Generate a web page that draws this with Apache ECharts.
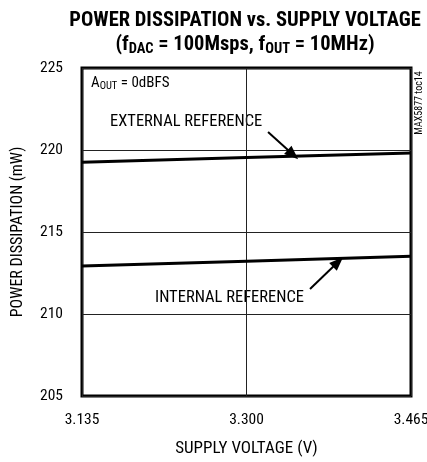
<!DOCTYPE html>
<html><head><meta charset="utf-8">
<script src="https://cdn.jsdelivr.net/npm/echarts@6/dist/echarts.min.js"></script>
<style>html,body{margin:0;padding:0;background:#fff}#c{width:427px;height:462px}</style>
</head><body><div id="c"></div>
<script>
const xTicks = [3.135, 3.300, 3.465];
const yTicks = [205, 210, 215, 220, 225];
const supplyVoltage = [3.135, 3.300, 3.465];
const externalRef = [219.25, 219.55, 219.82];
const internalRef = [212.93, 213.22, 213.52];
const extArrow = [[3.3216, 221.1], [3.3466, 219.72]];
const intArrow = [[3.3637, 211.52], [3.3918, 213.17]];

const FONT = '"Roboto Condensed", "Liberation Sans Narrow", sans-serif';
const chart = echarts.init(document.getElementById('c'));
const arrowLine = (pts) => ({
  symbol: ['none', 'triangle'], symbolSize: [11, 14], silent: true,
  lineStyle: { color: '#000', width: 2, type: 'solid' },
  label: { show: false },
  data: [[{ coord: pts[0] }, { coord: pts[1] }]]
});
chart.setOption({
  animation: false,
  title: {
    text: 'POWER DISSIPATION vs. SUPPLY VOLTAGE\n{b|(f}{s|DAC}{b| = 100Msps, f}{s|OUT}{b| = 10MHz)}',
    left: 240, top: 4, textAlign: 'center',
    textStyle: {
      fontFamily: FONT, fontWeight: 'bold', fontSize: 20.5, color: '#000', lineHeight: 24,
      rich: {
        b: { fontFamily: FONT, fontWeight: 'bold', fontSize: 20.5, color: '#000' },
        s: { fontFamily: FONT, fontWeight: 'bold', fontSize: 14.5, color: '#000', padding: [8, 0, 0, 0] }
      }
    }
  },
  grid: { left: 82, right: 16, top: 68, bottom: 66, show: true, borderColor: '#000', borderWidth: 3,
          containLabel: false, outerBoundsMode: 'none' },
  xAxis: {
    type: 'value', min: 3.135, max: 3.465, interval: 0.165,
    name: 'SUPPLY VOLTAGE (V)', nameLocation: 'middle', nameGap: 44,
    nameTextStyle: { fontFamily: FONT, fontSize: 17, color: '#000' },
    axisLine: { show: false }, axisTick: { show: false },
    axisLabel: { fontFamily: FONT, fontSize: 15.5, color: '#000', margin: 16, formatter: v => v.toFixed(3) },
    splitLine: { show: true, lineStyle: { color: '#222', width: 1 } }
  },
  yAxis: {
    type: 'value', min: 205, max: 225, interval: 5,
    name: 'POWER DISSIPATION (mW)', nameLocation: 'middle', nameGap: 56, nameRotate: 90,
    nameTextStyle: { fontFamily: FONT, fontSize: 16, color: '#000' },
    axisLine: { show: false }, axisTick: { show: false },
    axisLabel: { fontFamily: FONT, fontSize: 15.5, color: '#000', margin: 19, verticalAlign: 'middle' },
    splitLine: { show: true, lineStyle: { color: '#222', width: 1 } }
  },
  series: [
    { type: 'line', data: supplyVoltage.map((v, i) => [v, externalRef[i]]), symbol: 'none',
      lineStyle: { color: '#000', width: 3 }, markLine: arrowLine(extArrow) },
    { type: 'line', data: supplyVoltage.map((v, i) => [v, internalRef[i]]), symbol: 'none',
      lineStyle: { color: '#000', width: 3 }, markLine: arrowLine(intArrow) }
  ],
  graphic: [
    { type: 'text', left: 91, top: 76, style: { text: '{a|A}{s|OUT}{a| = 0dBFS}', rich: {
        a: { fontFamily: FONT, fontSize: 15, fill: '#000' },
        s: { fontFamily: FONT, fontSize: 10.5, fill: '#000', padding: [5, 0, 0, 0] } } } },
    { type: 'text', left: 110, top: 113, style: { text: 'EXTERNAL REFERENCE', fontFamily: FONT, fontSize: 16.5, fill: '#000', backgroundColor: '#fff' } },
    { type: 'text', left: 155, top: 289, style: { text: 'INTERNAL REFERENCE', fontFamily: FONT, fontSize: 16.5, fill: '#000', backgroundColor: '#fff' } },
    { type: 'text', x: 419, y: 103, rotation: Math.PI / 2, style: { text: 'MAX5877 toc14', fontFamily: FONT, fontSize: 10, fill: '#000', align: 'center', verticalAlign: 'middle' } }
  ]
});
</script></body></html>
